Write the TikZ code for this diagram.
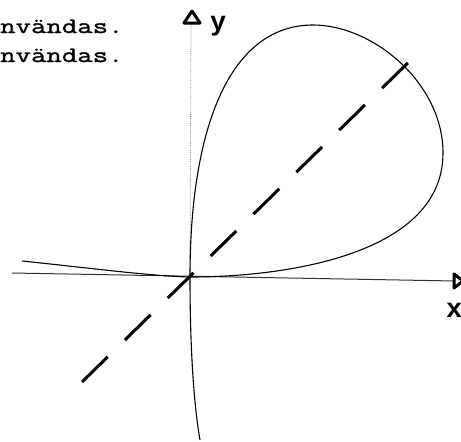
\documentclass[tikz,border=0pt]{standalone}
\usepackage{fontspec}
\newfontfamily\typew[FakeStretch=1.36,FakeBold=1.5]{Latin Modern Mono}
\newfontfamily\handf{Liberation Mono}
\begin{document}
\begin{tikzpicture}[x=1pt,y=-1pt,
  curve/.style={line width=1.1pt,black},
  xaxis/.style={line width=1pt,black!80},
  yaxis/.style={line width=0.8pt,black!45,densely dotted},
  dashline/.style={line width=3pt,dash pattern=on 36pt off 24pt},
  tip/.style={line width=3pt,line join=round,fill=white,draw=black},
  txt/.style={font=\typew\fontsize{22}{22}\selectfont,inner sep=0pt},
  lbl/.style={font=\handf\bfseries\fontsize{27}{27}\selectfont,inner sep=0pt}]
\useasboundingbox (0,0) rectangle (461,442);
\coordinate (O) at (190,277);
\coordinate (T) at (313,25);
\coordinate (R) at (443,153);
\coordinate (L) at (22,261);
\coordinate (B) at (200,440);
\coordinate (xs) at (12,273);
\coordinate (xe) at (455,281);
\coordinate (ye) at (191,22);
\coordinate (ds) at (82,382);
\coordinate (de) at (419,52);
% text lines
\node[txt,anchor=base west] (t1) at (0,33) {nvändas.};
\node[txt,anchor=base west] (t2) at (0,62) {nvändas.};
% axes
\draw[xaxis] (xs) -- (xe);
\draw[yaxis] (O) -- (ye);
\draw[tip] (184,23) -- (192,11) -- (200,23) -- cycle;
\draw[tip] (454,274) -- (463,281) -- (454,288) -- cycle;
\node[lbl,anchor=base west] (ly) at (210,30) {y};
\node[lbl,anchor=base west] (lx) at (446,317) {x};
% curve: loop
\draw[curve] (O) .. controls (190,127) and (230,25) .. (T)
  .. controls (373,25) and (443,83) .. (R)
  .. controls (443,253) and (290,277) .. (O);
% left branch
\draw[curve] (L) .. controls (90,268) and (150,276) .. (O);
% lower branch
\draw[curve] (O) .. controls (190,340) and (193,400) .. (B);
% dashed line
\draw[dashline] (ds) -- (de);
\end{tikzpicture}
\end{document}
